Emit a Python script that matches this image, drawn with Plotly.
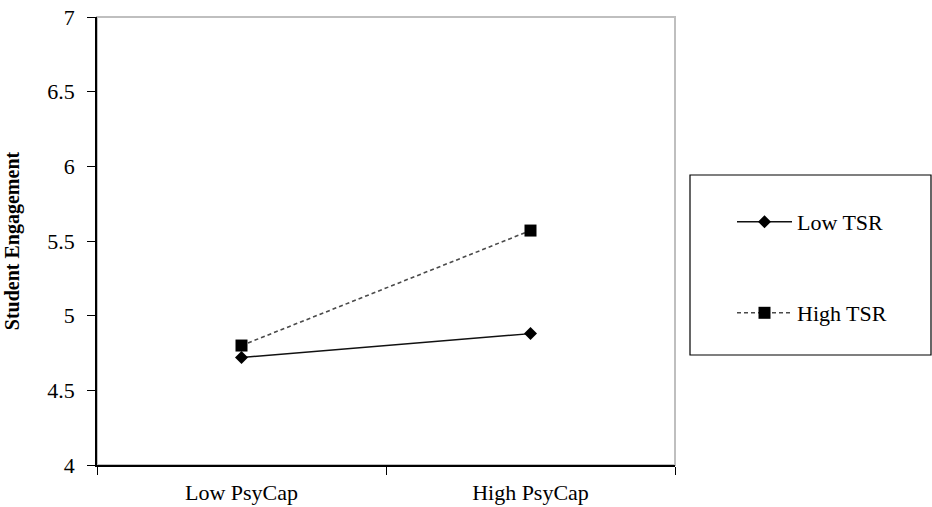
import plotly.graph_objects as go

categories = ["Low PsyCap", "High PsyCap"]
low_tsr = [4.72, 4.88]
high_tsr = [4.80, 5.57]
series_names = ["Low TSR", "High TSR"]
y_tick_vals = [4, 4.5, 5, 5.5, 6, 6.5, 7]
y_tick_text = ["4", "4.5", "5", "5.5", "6", "6.5", "7"]
y_title = "Student Engagement"

FONT = "Liberation Serif"

fig = go.Figure()
fig.add_trace(go.Scatter(
    x=categories, y=low_tsr, name=series_names[0], mode="lines+markers",
    line=dict(color="#111111", width=1.4),
    marker=dict(symbol="diamond", size=10, color="#000000"),
    legend="legend",
))
fig.add_trace(go.Scatter(
    x=categories, y=high_tsr, name=series_names[1], mode="lines+markers",
    line=dict(color="#4a4a4a", width=1.6, dash="4px,3px"),
    marker=dict(symbol="square", size=12, color="#000000"),
    legend="legend2",
))

W, H = 932, 507
# page pixel positions of the plot area
PL, PR, PT, PB = 97, 675, 17, 465
L, T = PL, PT
R = W - PR
B = H - PB
pw = PR - PL
ph = PB - PT

def px_x(x):
    return (x - PL) / pw

def px_y(y):
    return (PB - y) / ph

fig.update_layout(
    width=W, height=H,
    margin=dict(l=L, r=R, t=T, b=B, pad=0),
    paper_bgcolor="white", plot_bgcolor="white",
    font=dict(family=FONT, size=22, color="#000000"),
    xaxis=dict(
        type="category", range=[-0.5, 1.5], tickson="boundaries",
        ticks="outside", ticklen=8, tickwidth=1.2, tickcolor="#000",
        showline=True, linecolor="#000", linewidth=1.5,
        showgrid=False, zeroline=False, automargin=False,
        tickfont=dict(family=FONT, size=22, color="#000"),
        ticklabelstandoff=7,
    ),
    yaxis=dict(
        range=[4, 7], tickvals=y_tick_vals, ticktext=y_tick_text,
        ticks="outside", ticklen=8, tickwidth=1.2, tickcolor="#000",
        showline=True, linecolor="#000", linewidth=1.5,
        showgrid=False, zeroline=False, automargin=False,
        tickfont=dict(family=FONT, size=22, color="#000"),
        ticklabelstandoff=8, ticklabeloverflow="allow",
        title=dict(text=y_title, font=dict(family=FONT, size=20, color="#000", weight="bold"), standoff=22),
    ),
    legend=dict(
        x=px_x(732), y=px_y(222), xanchor="left", yanchor="middle",
        bgcolor="rgba(0,0,0,0)", borderwidth=0, itemwidth=55,
        font=dict(family=FONT, size=22, color="#000"),
    ),
    legend2=dict(
        x=px_x(732), y=px_y(313), xanchor="left", yanchor="middle",
        bgcolor="rgba(0,0,0,0)", borderwidth=0, itemwidth=55,
        font=dict(family=FONT, size=22, color="#000"),
    ),
    showlegend=True,
    shapes=[
        dict(type="rect", xref="paper", yref="paper", x0=0, x1=1, y0=0, y1=1,
             line=dict(color="#bfbfbf", width=2), layer="below"),
        dict(type="rect", xref="paper", yref="paper",
             x0=px_x(690), x1=px_x(931), y0=px_y(355), y1=px_y(175),
             line=dict(color="#000", width=1.2), layer="below"),
    ],
)

fig.write_html(
    "out.html",
    config={"displayModeBar": False},
    post_script="document.body.style.margin='0px';document.body.style.overflow='hidden';",
)
